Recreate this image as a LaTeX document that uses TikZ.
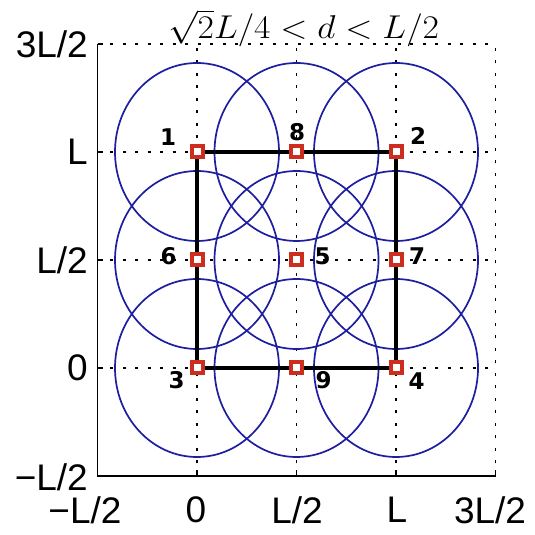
\RequirePackage{fix-cm}
\documentclass[tikz,border=0pt]{standalone}
\usepackage{fontspec}
\newfontfamily\axfont{Liberation Sans}
\newfontfamily\numfont{DejaVu Sans}
\definecolor{mred}{RGB}{205,45,30}
\definecolor{mblue}{RGB}{30,30,160}
\begin{document}
\begin{tikzpicture}[x=1pt,y=1pt,
  gridline/.style={black, line width=1.4pt, dash pattern=on 3pt off 9.5pt},
  ring/.style={mblue, line width=1.7pt},
  marker/.style={draw=mred, line width=4pt, minimum size=11pt, inner sep=0pt, fill=white},
  lab/.style={font=\numfont\bfseries\fontsize{23}{23}\selectfont, inner sep=0pt},
  ticklab/.style={font=\axfont\fontsize{37}{37}\selectfont, inner sep=0pt},
  axisline/.style={black, line width=1.5pt}]
\useasboundingbox (0,0) rectangle (535,535);
\fill[white] (0,0) rectangle (535,535);
% grid
\foreach \x in {197,296.5,396,495.5} \draw[gridline] (\x,59) -- (\x,491);
\foreach \y in {167,275,383,491} \draw[gridline] (97.5,\y) -- (495.5,\y);
% axes
\coordinate (ax0) at (97.5,59);
\coordinate (axtop) at (97.5,491);
\coordinate (axright) at (495.5,59);
\draw[axisline] (axtop) -- (ax0) -- (axright);
\foreach \y in {59,167,275,383,491} \draw[axisline] (97.5,\y) -- (103,\y);
\foreach \x in {97.5,197,296.5,396,495.5} \draw[axisline] (\x,59) -- (\x,64.5);
% centres
\coordinate (c1) at (197,383);
\coordinate (c8) at (296.5,383);
\coordinate (c2) at (396,383);
\coordinate (c6) at (197,275);
\coordinate (c5) at (296.5,275);
\coordinate (c7) at (396,275);
\coordinate (c3) at (197,167);
\coordinate (c9) at (296.5,167);
\coordinate (c4) at (396,167);
% circles
\foreach \c in {c1,c2,c3,c4,c5,c6,c7,c8,c9}
  \draw[ring] (\c) ellipse [x radius=82, y radius=89];
% square
\draw[black, line width=3.5pt] (c1) -- (c2) -- (c4) -- (c3) -- cycle;
% markers
\foreach \c in {1,...,9} \node[marker] (m\c) at (c\c) {};
% labels
\node[lab] (l1) at (168,398) {1};
\node[lab] (l8) at (297,403) {8};
\node[lab] (l2) at (418,399) {2};
\node[lab] (l6) at (168.5,279) {6};
\node[lab] (l5) at (322.5,279) {5};
\node[lab] (l7) at (417,279) {7};
\node[lab] (l3) at (176.5,154.5) {3};
\node[lab] (l9) at (323.5,155) {9};
\node[lab] (l4) at (416.5,154) {4};
% y tick labels
\node[ticklab, anchor=east] (y1) at (88,491) {3L/2};
\node[ticklab, anchor=east] (y2) at (88,383) {L};
\node[ticklab, anchor=east] (y3) at (88,275) {L/2};
\node[ticklab, anchor=east] (y4) at (88,167) {0};
\node[ticklab, anchor=east] (y5) at (88,58) {−L/2};
% x tick labels
\node[ticklab] (x1) at (85,25) {−L/2};
\node[ticklab] (x2) at (196,25) {0};
\node[ticklab] (x3) at (297,25) {L/2};
\node[ticklab] (x4) at (397,25) {L};
\node[ticklab] (x5) at (490,25) {3L/2};
% title
\node[anchor=base, inner sep=0pt, xscale=1.08, font=\fontsize{33}{38}\selectfont] (title) at (303.5,496) {$\sqrt{2}L/4 < d < L/2$};
\end{tikzpicture}
\end{document}
